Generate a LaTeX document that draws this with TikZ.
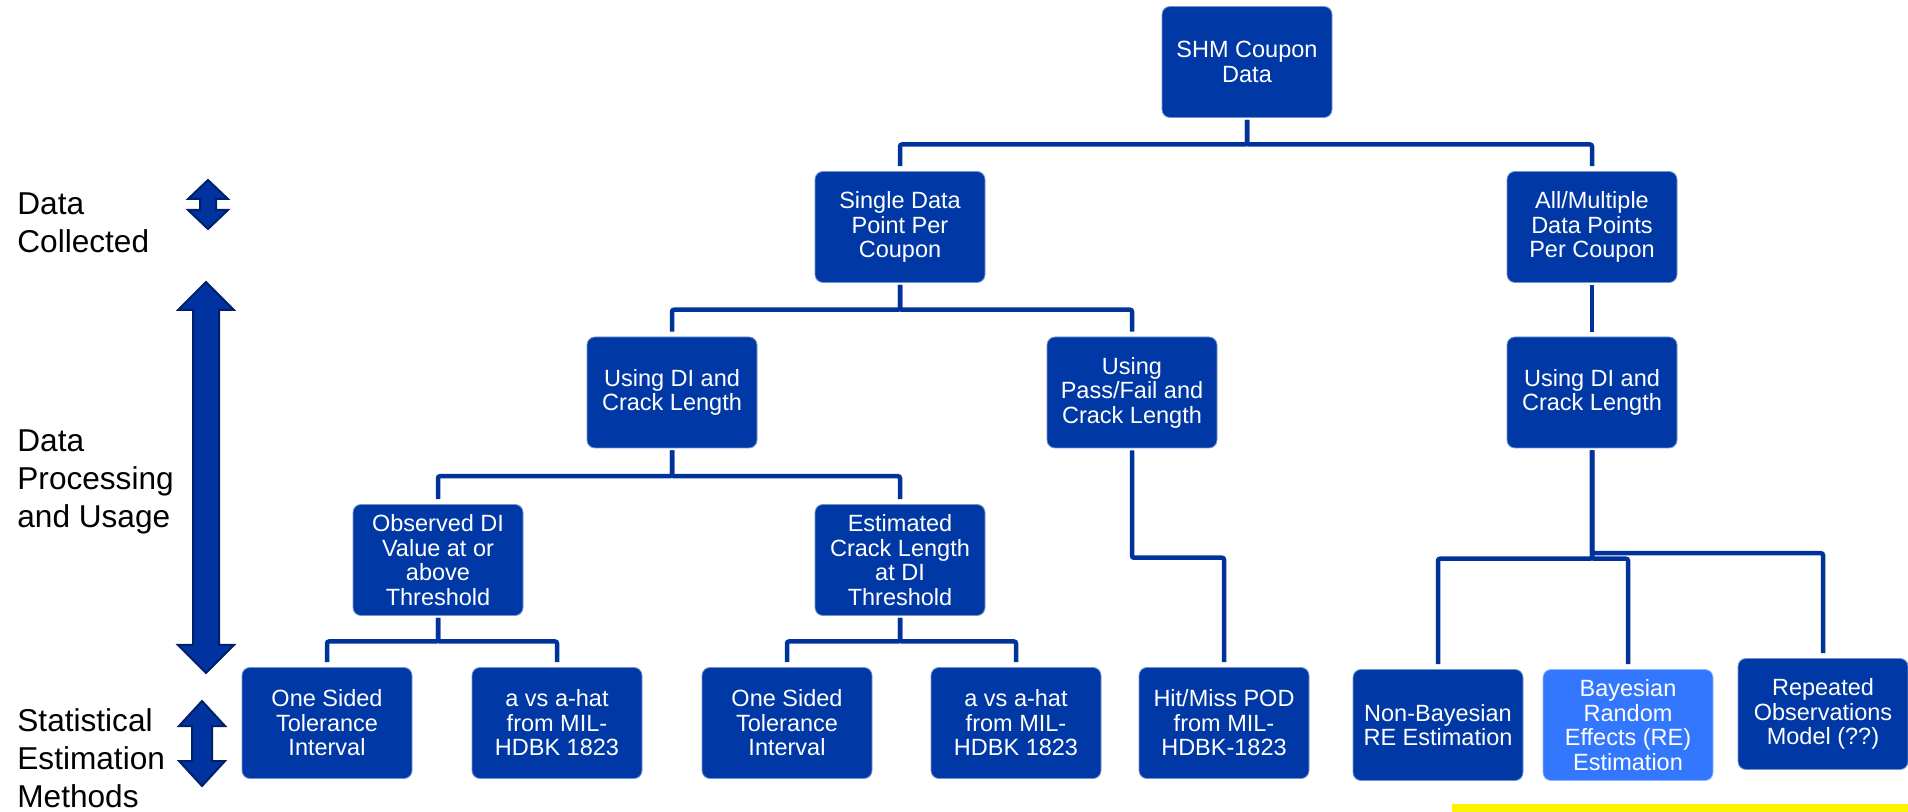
\documentclass[tikz,border=0pt]{standalone}
\usepackage{fontspec}
\setmainfont{Liberation Sans}
\usepackage{xcolor}
\definecolor{BOXCOLOR}{RGB}{0,57,166}
\definecolor{BAYESCOLOR}{RGB}{51,119,255}
\definecolor{LINKCOLOR}{RGB}{0,51,153}
\definecolor{RANGECOLOR}{RGB}{0,51,160}
\colorlet{RANGEEDGE}{RANGECOLOR!65!black}
\usepackage{tikz}
\usetikzlibrary{calc,positioning}
\tikzset{
  basic-style/.style = {
    rectangle, rounded corners=4pt, draw=#1!55!white, line width=0.4pt,
    fill=#1, text=white, align=center,
    minimum width=85pt,
    minimum height=55.5pt,
    inner sep=2pt,
    font=\fontsize{11.75}{12.25}\selectfont
  },
  box-style/.style = {
    basic-style=BOXCOLOR
  },
  bayes-style/.style = {
    basic-style=BAYESCOLOR
  },
  link-style/.style = {
    draw=LINKCOLOR, line width=2.25pt, rounded corners=1pt,
    shorten <=1pt, shorten >=2.5pt,
    to path={(\tikztostart) |- ($(\tikztostart)!0.5!(\tikztotarget)$) -| (\tikztotarget)}
  },
  level-style/.style = {
    anchor=west, align=left, inner sep=0pt,
    font=\fontsize{15.8}{19}\selectfont
  },
  range-style/.style = {
    fill=RANGECOLOR, draw=RANGEEDGE, line width=1pt, line join=miter
  }
}
\def\createBox name:#1 display:#2 at:#3;{
  \node [box-style] (#1) at (#3) {#2};
}
\def\createLink from:#1 to:#2;{
  \draw [link-style] (#1.south) to (#2.north);
}
\def\createRange x:#1 top:#2 bottom:#3 head:#4 shaft:#5 wing:#6;{
  \draw [range-style] (#1,#2) -- ({#1+#6},{#2+#4}) -- ({#1+#5},{#2+#4})
    -- ({#1+#5},{#3-#4}) -- ({#1+#6},{#3-#4}) -- (#1,#3)
    -- ({#1-#6},{#3-#4}) -- ({#1-#5},{#3-#4}) -- ({#1-#5},{#2+#4})
    -- ({#1-#6},{#2+#4}) -- cycle;
}
\begin{document}
\begin{tikzpicture}[x=0.5pt,y=-0.5pt]
  \useasboundingbox (0,0) rectangle (1908,812);

  % levels on the left
  \node [level-style] (collected) at (17,223) {Data\\Collected};
  \node [level-style] (processing) at (17,482) {Data\\Processing\\and Usage};
  \node [level-style] (statistical) at (17,758) {Statistical\\Estimation\\Methods};
  \createRange x:208 top:180 bottom:229 head:19 shaft:8 wing:20;
  \createRange x:206 top:282 bottom:673 head:28 shaft:13 wing:28;
  \createRange x:202 top:701 bottom:786 head:25 shaft:10 wing:23;

  % tree
  \createBox name:shm display:{SHM Coupon\\Data} at:1247,62;
  \createBox name:single display:{Single Data\\Point Per\\Coupon} at:900,227;
  \createBox name:multi display:{All/Multiple\\Data Points\\Per Coupon} at:1592,227;
  \createBox name:diL display:{Using DI and\\Crack Length} at:672,392.5;
  \createBox name:passfail display:{Using\\Pass/Fail and\\Crack Length} at:1132,392.5;
  \createBox name:diR display:{Using DI and\\Crack Length} at:1592,392.5;
  \createBox name:observed display:{Observed DI\\Value at or\\above\\Threshold} at:438,560;
  \createBox name:estimated display:{Estimated\\Crack Length\\at DI\\Threshold} at:900,560;
  \createBox name:tolL display:{One Sided\\Tolerance\\Interval} at:327,723;
  \createBox name:ahatL display:{a vs a-hat\\from MIL-\\HDBK 1823} at:557,723;
  \createBox name:tolR display:{One Sided\\Tolerance\\Interval} at:787,723;
  \createBox name:ahatR display:{a vs a-hat\\from MIL-\\HDBK 1823} at:1016,723;
  \createBox name:hitmiss display:{Hit/Miss POD\\from MIL-\\HDBK-1823} at:1224,723;
  \createBox name:nonbayes display:{Non-Bayesian\\RE Estimation} at:1438,725;
  \node [bayes-style] (bayes) at (1628,725) {Bayesian\\Random\\Effects (RE)\\Estimation};
  \createBox name:repeated display:{Repeated\\Observations\\Model (??)} at:1823,714;

  \createLink from:shm to:single;
  \createLink from:shm to:multi;
  \createLink from:single to:diL;
  \createLink from:single to:passfail;
  \createLink from:multi to:diR;
  \createLink from:diL to:observed;
  \createLink from:diL to:estimated;
  \createLink from:passfail to:hitmiss;
  \createLink from:diR to:nonbayes;
  \createLink from:diR to:bayes;
  \createLink from:diR to:repeated;
  \createLink from:observed to:tolL;
  \createLink from:observed to:ahatL;
  \createLink from:estimated to:tolR;
  \createLink from:estimated to:ahatR;

  % highlight strip
  \fill [yellow] (1452,804) rectangle (1908,812);
\end{tikzpicture}
\end{document}
